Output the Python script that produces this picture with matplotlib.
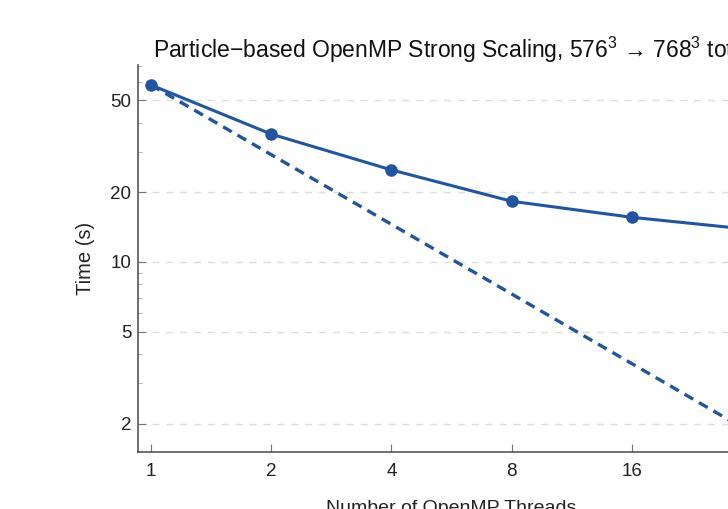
import matplotlib
matplotlib.use("Agg")
import matplotlib.pyplot as plt
from matplotlib.ticker import FixedLocator, NullFormatter, FixedFormatter
import numpy as np

threads = [1, 2, 4, 8, 16, 32]
times = [58.2, 35.7, 25.0, 18.3, 15.6, 13.8]
ideal = [times[0] / t for t in threads]
xticks = [1, 2, 4, 8, 16, 32]
yticks = [2, 5, 10, 20, 50]

plt.rcParams['font.family'] = ['Liberation Sans', 'DejaVu Sans']
plt.rcParams['mathtext.fontset'] = 'custom'
plt.rcParams['mathtext.rm'] = 'Liberation Sans'

W, H = 728, 509
fig = plt.figure(figsize=(W / 100, H / 100), dpi=100)
left_px, right_px, top_px, bot_px = 138.4, 764.6, 65, 452
ax = fig.add_axes([left_px / W, 1 - bot_px / H, (right_px - left_px) / W, (bot_px - top_px) / H])

color = '#1f55a5'
ax.plot(threads, times, '-o', color=color, lw=2.2, ms=8, zorder=3)
ax.plot(threads, ideal, '--', color=color, lw=2.4, dashes=(3, 2), zorder=2)

ax.set_xscale('log', base=2)
ax.set_yscale('log')
ax.set_xlim(0.93, 34.4)
ax.set_ylim(1.51, 71)

ax.xaxis.set_major_locator(FixedLocator(xticks))
ax.xaxis.set_major_formatter(FixedFormatter([str(t) for t in xticks]))
ax.xaxis.set_minor_locator(FixedLocator([]))
ax.yaxis.set_major_locator(FixedLocator(yticks))
ax.yaxis.set_major_formatter(FixedFormatter([str(t) for t in yticks]))
ax.yaxis.set_minor_formatter(NullFormatter())

ax.grid(True, axis='y', which='major', linestyle=(0, (5, 5)), color='#dcdcdc', lw=1)
for s in ['top', 'right']:
    ax.spines[s].set_visible(False)
for s in ['left', 'bottom']:
    ax.spines[s].set_color('#555555')
    ax.spines[s].set_linewidth(1.2)

ax.tick_params(axis='both', which='major', direction='in', length=6, color='#777777',
               labelsize=13.5, labelcolor='#222222')
ax.tick_params(axis='x', which='major', pad=8)
ax.tick_params(axis='y', which='major', pad=5)
ax.tick_params(axis='y', which='minor', direction='in', length=3, color='#aaaaaa')

ax.set_title('Particle\u2212based OpenMP Strong Scaling, 576$^3$ \u2192 768$^3$ total',
             fontsize=16.5, pad=2, color='#111111')
ax.set_xlabel('Number of OpenMP Threads', fontsize=14, labelpad=14, color='#222222')
ax.set_ylabel('Time (s)', fontsize=14.5, labelpad=11, color='#222222')

fig.savefig('out.png', dpi=100)
